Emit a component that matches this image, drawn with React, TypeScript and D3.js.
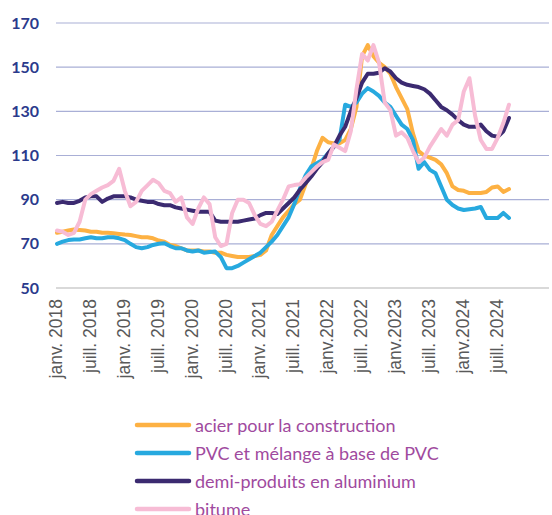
import React from "react";
import * as d3 from "d3";

const seriesNames = [
  "acier pour la construction",
  "PVC et mélange à base de PVC",
  "demi-produits en aluminium",
  "bitume",
];
const seriesColors = ["#FDB143", "#27A9DF", "#3B2A70", "#F7BCD5"];

const acier = [
  75, 75.5, 76, 76.5, 76.3, 76, 75.5, 75.5, 75, 75, 74.8, 74.5, 74.2, 74, 73.5, 73, 73, 72.5, 71.5, 71,
  69.5, 69, 68, 67, 67, 67, 66.5, 66.5, 66, 66, 65, 64.5, 64, 64, 64, 64.5, 65, 67, 74, 78,
  82, 85, 88, 90, 97, 104, 112, 118, 116, 115.5, 115.5, 117, 122, 132, 155, 160, 155, 152, 150, 147,
  141, 136, 131, 120, 112, 110, 109, 108, 106, 102, 96, 94.4, 94, 93, 93, 93, 93.5, 95.5, 96, 93.5, 94.8,
];
const pvc = [
  70, 71, 71.7, 72, 72, 72.5, 73, 72.5, 72.5, 73, 73, 72.5, 71.7, 70, 68.5, 68, 68.5, 69.5, 70, 70.3,
  69, 68, 68, 67, 66.5, 67, 66, 66.3, 66.5, 64, 59, 59, 60, 61.5, 63, 64.5, 66, 68.5, 71, 74,
  78, 82, 88, 95, 101, 105, 106.5, 108, 111, 114, 117, 133, 132, 134, 138, 140.5, 139, 137, 134, 132,
  128, 124, 122, 117, 104, 107, 103.5, 102, 96, 90, 87.6, 86, 85.3, 85.7, 86, 86.7, 81.7, 81.7, 81.7, 84, 81.7,
];
const aluminium = [
  88.5, 89, 88.5, 88.5, 89.5, 91, 91.5, 91.5, 89, 90.5, 91.5, 91.5, 91.5, 91, 90, 89.5, 89, 89, 88, 87.5,
  87.5, 86.5, 86, 85.5, 85, 84.5, 84.5, 84.5, 80.5, 80, 80, 80, 80, 80.5, 81, 81.5, 83, 84, 84, 83.5,
  86, 88.5, 91, 94.5, 97.5, 100.5, 104, 107, 111, 114, 119, 123, 130, 136, 143, 147, 147, 147.5, 149.5, 148,
  145, 143, 142, 141.5, 141, 140, 138, 135, 132, 130.5, 128.5, 126, 124, 123, 123, 124, 121, 119, 118.5, 121, 127,
];
const bitume = [
  76, 75.5, 74, 75, 80, 90, 92.5, 94, 95.5, 96.6, 98.5, 104, 94, 87, 89, 94, 96.5, 99, 97.5, 94,
  93, 89, 91, 82, 79, 86, 91, 88, 73, 69, 70, 84, 90, 90, 88.5, 83, 79, 78, 80, 85,
  90, 96, 96.6, 97, 100, 102.5, 105, 107, 108, 115, 113.5, 112, 121, 140, 156, 153, 160, 152, 134, 130.6,
  119, 120.5, 118, 112, 107, 109, 114, 118, 122, 119, 124, 126, 139, 145, 128, 117, 113, 113, 118, 124.7, 133,
];

const xLabels = [
  "janv. 2018", "juill. 2018", "janv. 2019", "juill. 2019", "janv. 2020", "juill. 2020", "janv. 2021",
  "juill. 2021", "janv.2022", "juill. 2022", "janv.2023", "juill. 2023", "janv.2024", "juill. 2024",
];
const yTicks = [50, 70, 90, 110, 130, 150, 170];

export default function App() {
  const W = 552;
  const H = 515;
  const x = d3.scaleLinear().domain([0, 80]).range([57, 509]);
  const y = d3.scaleLinear().domain([50, 170]).range([288, 23]);
  const allSeries = [acier, pvc, aluminium, bitume];
  const line = d3
    .line<number>()
    .x((_, i) => x(i))
    .y((d) => y(d));

  return (
    <div style={{ position: "absolute", left: 0, top: 0 }}>
      <svg width={W} height={H} style={{ display: "block", background: "#fff" }}>
        {yTicks.map((t) => (
          <g key={t}>
            <line
              x1={56}
              x2={549}
              y1={y(t)}
              y2={y(t)}
              stroke={t === 50 ? "#D9D9D9" : "#A9AFD6"}
              strokeWidth={t === 50 ? 2 : 1.2}
            />
            <text
              x={39}
              y={y(t) - 1}
              textAnchor="end"
              dominantBaseline="central"
              fontFamily="Lato, 'Open Sans', sans-serif"
              fontWeight={700}
              fontSize={16}
              fill="#2B3A8C"
            >
              {t}
            </text>
          </g>
        ))}
        {xLabels.map((lab, i) => {
          const px = x(i * 6);
          return (
            <text
              key={lab}
              transform={`translate(${px - 1},299) rotate(-90)`}
              textAnchor="end"
              dominantBaseline="central"
              fontFamily="'Liberation Sans', Arial, sans-serif"
              fontSize={17.5}
              fill="#595959"
            >
              {lab}
            </text>
          );
        })}
        {allSeries.map((s, k) => (
          <path
            key={k}
            d={line(s) || ""}
            fill="none"
            stroke={seriesColors[k]}
            strokeWidth={4}
            strokeLinejoin="round"
            strokeLinecap="round"
          />
        ))}
        {seriesNames.map((n, k) => {
          const ly = 425 + k * 28;
          return (
            <g key={n}>
              <line x1={137} x2={189} y1={ly} y2={ly} stroke={seriesColors[k]} strokeWidth={4.5} strokeLinecap="round" />
              <text
                x={195}
                y={ly}
                dominantBaseline="central"
                fontFamily="Lato, 'Open Sans', sans-serif"
                fontSize={18}
                fill="#A04A9E"
              >
                {n}
              </text>
            </g>
          );
        })}
      </svg>
    </div>
  );
}
